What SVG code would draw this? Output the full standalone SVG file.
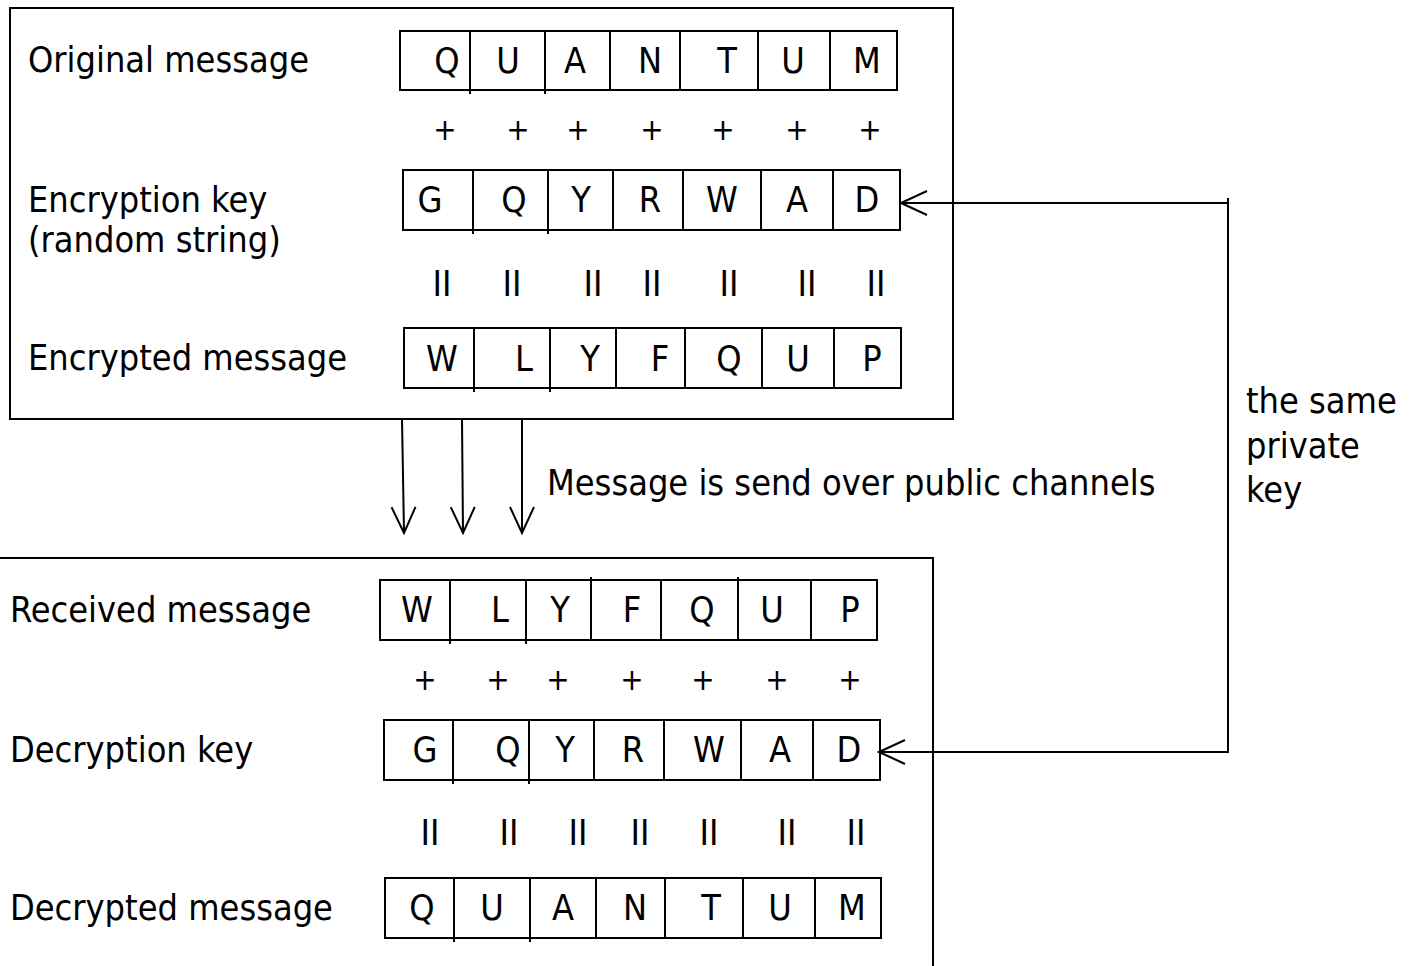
<svg xmlns="http://www.w3.org/2000/svg" width="1414" height="966" viewBox="0 0 1414 966">
  <style>
    text { font-family: "DejaVu Sans Condensed", "DejaVu Sans", sans-serif; font-size: 35.8px; fill: #000; }
    .c { text-anchor: middle; }
    .plus { font-size: 31px; text-anchor: middle; }
    .frame { fill: #fff; stroke: #000; stroke-width: 2; }
    .cell { fill: #fff; stroke: #000; stroke-width: 2; }
    .div { stroke: #000; stroke-width: 2; }
    .wire { fill: none; stroke: #000; stroke-width: 2; }
  </style>
  <defs>
    <marker id="open" markerUnits="userSpaceOnUse" viewBox="-30 -15 32 30" markerWidth="32" markerHeight="30" refX="0" refY="0" orient="auto">
      <path d="M-26,-12 L0,0 L-26,12" fill="none" stroke="#000" stroke-width="2"/>
    </marker>
  </defs>

  <rect width="1414" height="966" fill="#fff"/>

  <!-- sender side -->
  <g id="sender">
    <rect class="frame" x="10" y="8" width="943" height="411"/>
    <text x="28" y="72">Original message</text>
    <text x="28" y="212">Encryption key</text>
    <text x="28" y="252">(random string)</text>
    <text x="28" y="370">Encrypted message</text>
  </g>

  <g id="original-row">
    <rect class="cell" x="400" y="31" width="497" height="59"/>
    <path class="div" d="M470,31V94M545,31V94M610,31V90M680,31V90M758,31V90M830,31V90"/>
    <text class="c" x="447" y="73">Q</text>
    <text class="c" x="508" y="73">U</text>
    <text class="c" x="575" y="73">A</text>
    <text class="c" x="650" y="73">N</text>
    <text class="c" x="727" y="73">T</text>
    <text class="c" x="793" y="73">U</text>
    <text class="c" x="867" y="73">M</text>
  </g>

  <g id="plus-top">
    <text class="plus" x="445" y="140">+</text>
    <text class="plus" x="518" y="140">+</text>
    <text class="plus" x="578" y="140">+</text>
    <text class="plus" x="652" y="140">+</text>
    <text class="plus" x="723" y="140">+</text>
    <text class="plus" x="797" y="140">+</text>
    <text class="plus" x="870" y="140">+</text>
  </g>

  <g id="encryption-key-row">
    <rect class="cell" x="403" y="170" width="497" height="60"/>
    <path class="div" d="M473,170V234M548,170V234M613,170V230M683,170V230M761,170V230M833,170V230"/>
    <text class="c" x="430" y="212">G</text>
    <text class="c" x="514" y="212">Q</text>
    <text class="c" x="581" y="212">Y</text>
    <text class="c" x="650" y="212">R</text>
    <text class="c" x="722" y="212">W</text>
    <text class="c" x="797" y="212">A</text>
    <text class="c" x="867" y="212">D</text>
  </g>

  <g id="equals-top">
    <text class="c" x="442" y="296">II</text>
    <text class="c" x="512" y="296">II</text>
    <text class="c" x="593" y="296">II</text>
    <text class="c" x="652" y="296">II</text>
    <text class="c" x="729" y="296">II</text>
    <text class="c" x="807" y="296">II</text>
    <text class="c" x="876" y="296">II</text>
  </g>

  <g id="encrypted-row">
    <rect class="cell" x="404" y="328" width="497" height="60"/>
    <path class="div" d="M474,328V392M550,328V392M616,328V388M685,328V388M762,328V388M834,328V388"/>
    <text class="c" x="442" y="371">W</text>
    <text class="c" x="524" y="371">L</text>
    <text class="c" x="590" y="371">Y</text>
    <text class="c" x="660" y="371">F</text>
    <text class="c" x="729" y="371">Q</text>
    <text class="c" x="798" y="371">U</text>
    <text class="c" x="872" y="371">P</text>
  </g>

  <!-- receiver side -->
  <g id="receiver">
    <rect class="frame" x="-2" y="558" width="935" height="420"/>
    <text x="10" y="622">Received message</text>
    <text x="10" y="762">Decryption key</text>
    <text x="10" y="920">Decrypted message</text>
  </g>

  <g id="received-row">
    <rect class="cell" x="380" y="580" width="497" height="60"/>
    <path class="div" d="M450,580V644M526,580V644M591,577V640M661,580V640M738,577V640M811,580V640"/>
    <text class="c" x="417" y="622">W</text>
    <text class="c" x="500" y="622">L</text>
    <text class="c" x="560" y="622">Y</text>
    <text class="c" x="632" y="622">F</text>
    <text class="c" x="702" y="622">Q</text>
    <text class="c" x="772" y="622">U</text>
    <text class="c" x="850" y="622">P</text>
  </g>

  <g id="plus-bottom">
    <text class="plus" x="425" y="690">+</text>
    <text class="plus" x="498" y="690">+</text>
    <text class="plus" x="558" y="690">+</text>
    <text class="plus" x="632" y="690">+</text>
    <text class="plus" x="703" y="690">+</text>
    <text class="plus" x="777" y="690">+</text>
    <text class="plus" x="850" y="690">+</text>
  </g>

  <g id="decryption-key-row">
    <rect class="cell" x="384" y="720" width="496" height="60"/>
    <path class="div" d="M453,720V784M529,720V784M594,720V780M664,720V780M741,720V780M813,720V780"/>
    <text class="c" x="425" y="762">G</text>
    <text class="c" x="508" y="762">Q</text>
    <text class="c" x="565" y="762">Y</text>
    <text class="c" x="633" y="762">R</text>
    <text class="c" x="709" y="762">W</text>
    <text class="c" x="780" y="762">A</text>
    <text class="c" x="849" y="762">D</text>
  </g>

  <g id="equals-bottom">
    <text class="c" x="430" y="845">II</text>
    <text class="c" x="509" y="845">II</text>
    <text class="c" x="578" y="845">II</text>
    <text class="c" x="640" y="845">II</text>
    <text class="c" x="709" y="845">II</text>
    <text class="c" x="787" y="845">II</text>
    <text class="c" x="856" y="845">II</text>
  </g>

  <g id="decrypted-row">
    <rect class="cell" x="385" y="878" width="496" height="60"/>
    <path class="div" d="M454,878V942M530,878V942M596,878V938M665,878V938M743,878V938M815,878V938"/>
    <text class="c" x="422" y="920">Q</text>
    <text class="c" x="492" y="920">U</text>
    <text class="c" x="563" y="920">A</text>
    <text class="c" x="635" y="920">N</text>
    <text class="c" x="711" y="920">T</text>
    <text class="c" x="780" y="920">U</text>
    <text class="c" x="852" y="920">M</text>
  </g>

  <!-- channel and key-sharing connectors -->
  <g id="connectors">
    <line class="wire" x1="402" y1="419" x2="404" y2="533" marker-end="url(#open)"/>
    <line class="wire" x1="462" y1="419" x2="463" y2="533" marker-end="url(#open)"/>
    <line class="wire" x1="522" y1="419" x2="522" y2="533" marker-end="url(#open)"/>
    <path class="wire" d="M1227,203H901" marker-end="url(#open)"/>
    <path class="wire" d="M1228,198V752H879" marker-end="url(#open)"/>
  </g>

  <g id="notes">
    <text x="547" y="495">Message is send over public channels</text>
    <text x="1246" y="413">the same</text>
    <text x="1246" y="458">private</text>
    <text x="1246" y="502">key</text>
  </g>
</svg>
